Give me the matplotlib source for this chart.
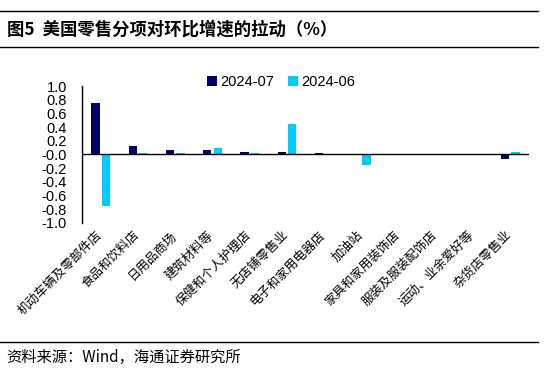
import numpy as np
import matplotlib.pyplot as plt
import matplotlib.transforms as mtransforms

plt.rcParams['font.family'] = ['Liberation Sans', 'Noto Sans CJK SC', 'DejaVu Sans']

categories = ["机动车辆及零部件店", "食品和饮料店", "日用品商场", "建筑材料等",
              "保健和个人护理店", "无店铺零售业", "电子和家用电器店", "加油站",
              "家具和家用装饰店", "服装及服装配饰店", "运动、业余爱好等", "杂货店零售业"]
jul = [0.75, 0.12, 0.06, 0.06, 0.04, 0.04, 0.02, 0.01, 0.005, 0.0, -0.01, -0.07]
jun = [-0.75, 0.02, 0.02, 0.10, 0.02, 0.44, -0.01, -0.16, 0.0, 0.0, 0.0, 0.03]
yticks = np.round(np.arange(-1.0, 1.01, 0.2), 1)

fig = plt.figure(figsize=(5.55, 3.81), dpi=100)
ax = fig.add_axes([0.148, 0.415, 0.805, 0.359])

x = np.arange(len(categories))
w = 0.22
ax.bar(x - 0.14, jul, w, color='#000066', label='2024-07')
ax.bar(x + 0.14, jun, w, color='#00CCFF', label='2024-06')

ax.set_xlim(-0.5, len(categories) - 0.5)
ax.set_ylim(-1.0, 1.0)
ax.set_yticks(yticks)
ax.set_yticklabels([f"{v:.1f}" for v in yticks], fontsize=10.5)
ax.tick_params(axis='y', length=0, pad=11)
ax.tick_params(axis='x', length=0, pad=4)
ax.set_xticks(x)
ax.set_xticklabels(categories, rotation=45, ha='right', rotation_mode='anchor',
                   fontsize=9, family=['Noto Sans CJK SC'])
shift = mtransforms.ScaledTranslation(-4/72, 0, fig.dpi_scale_trans)
for lab in ax.get_xticklabels():
    lab.set_transform(lab.get_transform() + shift)
for s in ['top', 'right', 'bottom']:
    ax.spines[s].set_visible(False)
ax.spines['left'].set_linewidth(1.0)
ax.axhline(0, color='black', lw=1.0)

ax.legend(loc='center', bbox_to_anchor=(0.445, 1.03), ncol=2, frameon=False,
          fontsize=10.5, handlelength=0.7, handleheight=0.7, handletextpad=0.2,
          columnspacing=1.0)

# title block
fig.add_artist(plt.Line2D([0.0, 0.97], [1 - 11/381, 1 - 11/381], color='black', lw=1.0))
fig.add_artist(plt.Line2D([0.0, 0.97], [1 - 47/381, 1 - 47/381], color='black', lw=1.0))
fig.text(0.012, 1 - 30/381, "图5  美国零售分项对环比增速的拉动（%）", fontsize=12.5,
         fontweight='bold', va='center', family=['Noto Sans CJK SC', 'DejaVu Sans'])
fig.add_artist(plt.Line2D([0.0, 0.97], [1 - 342/381, 1 - 342/381], color='black', lw=1.0))
fig.text(0.012, 1 - 357/381, "资料来源：Wind，海通证券研究所", fontsize=11, va='center',
         family=['Noto Sans CJK SC', 'DejaVu Sans'])

plt.savefig("out.png", dpi=100)
